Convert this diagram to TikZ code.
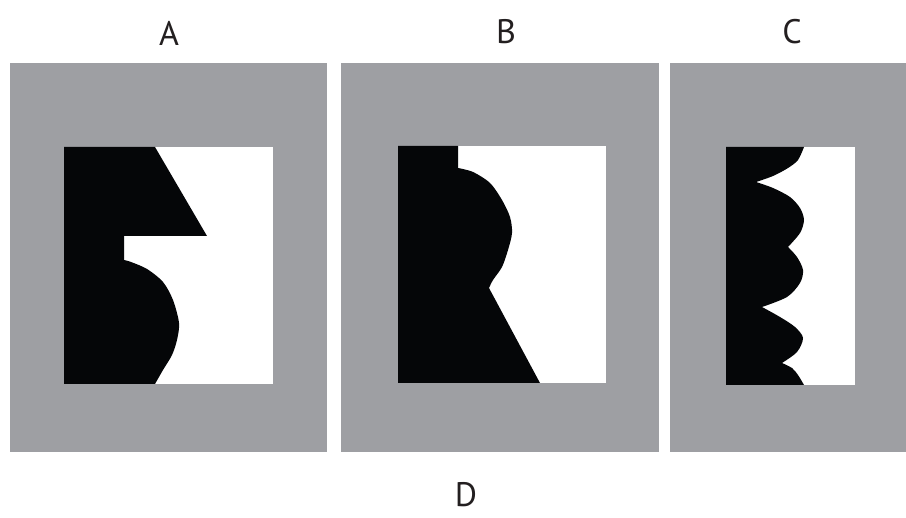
\documentclass[tikz,border=0pt]{standalone}
\usepackage{fontspec}
\setmainfont{PT Sans}
\definecolor{panelgray}{RGB}{158,159,163}
\definecolor{inkblack}{RGB}{5,6,8}
\definecolor{labelink}{RGB}{35,31,32}
\begin{document}
\begin{tikzpicture}[x=1pt,y=-1pt,
  panel/.style={fill=panelgray},
  window/.style={fill=white},
  shade/.style={fill=inkblack},
  lbl/.style={text=labelink,font=\fontsize{34}{34}\selectfont,inner sep=0pt,anchor=center}]
\useasboundingbox (0,0) rectangle (906,518);
% panels
\fill[panel] (10,63) rectangle (327,452);
\fill[panel] (341,63) rectangle (659,452);
\fill[panel] (670,63) rectangle (906,452);
\fill[window] (64,147) rectangle (273,384);
\fill[window] (398,146) rectangle (606,383);
\fill[window] (726,147) rectangle (855,385);
% A
\fill[shade] (64,147) -- (155,147) -- (207,236) -- (124,236) -- (124,260)
  -- plot[smooth] coordinates {(124,260)(131,262)(147,269)(163,282)(173,300)(179,323)(177,340)(172,355)(163,370)(155,384)}
  -- (64,384) -- cycle;
% B
\fill[shade] (398,146) -- (458,146) -- (458,168)
  -- plot[smooth] coordinates {(458,168)(473,172)(490,183)(502,200)(510,217)(512,233)(508,250)(502,267)(493,280)(489,288)}
  -- (540,383) -- (398,383) -- cycle;
% C
\fill[shade] (726,147) -- (804,147)
  -- plot[smooth] coordinates {(804,147)(798,160)(788,168)(773,176)(756,182)}
  -- plot[smooth] coordinates {(756,182)(773,188)(790,197)(800,208)(804,220)(800,233)(788,247)}
  -- plot[smooth] coordinates {(788,247)(797,257)(803,270)(800,283)(787,297)(762,307)}
  -- plot[smooth] coordinates {(762,307)(780,317)(795,327)(803,338)(797,352)(782,363)}
  -- plot[smooth] coordinates {(782,363)(792,368)(798,375)(804,385)}
  -- (726,385) -- cycle;
% labels
\node[lbl] (la) at (169,33) {A};
\node[lbl] (lb) at (506,32) {B};
\node[lbl] (lc) at (792,32) {C};
\node[lbl] (ld) at (466,495) {D};
\end{tikzpicture}
\end{document}
